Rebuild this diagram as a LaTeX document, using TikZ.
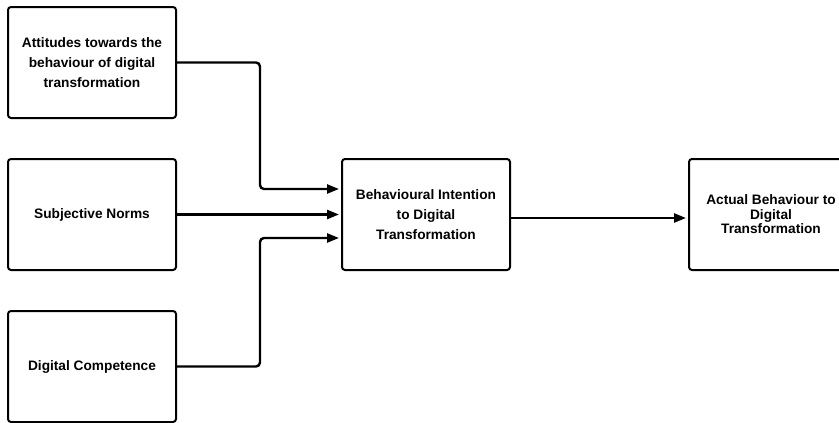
\documentclass[tikz,border=0pt]{standalone}
\usepackage{fontspec}
\setmainfont{Liberation Sans}
\usetikzlibrary{arrows.meta,positioning}

\begin{document}
\begin{tikzpicture}[x=1pt,y=-1pt,
	box/.style={draw,line width=2pt,rounded corners=3pt,minimum width=168pt,minimum height=111pt,inner sep=0pt,align=center,font=\fontsize{13.7}{20}\selectfont\bfseries},
	link/.style={line width=2.4pt,rounded corners=4pt,shorten >=2pt,-{Triangle[length=12pt,width=9pt]}}]
	\useasboundingbox (0,0) rectangle (839,423);

	% factors on the left
	\node[box] (att) at (92,62.5) {Attitudes towards the\\behaviour of digital\\transformation};
	\node[box] (norm) at (92,214.5) {Subjective Norms};
	\node[box] (comp) at (92,366.5) {Digital Competence};

	% intention and behaviour
	\node[box] (intent) at (426,214.5) {Behavioural Intention\\to Digital\\Transformation};
	\node[box,minimum width=164pt,font=\fontsize{13.7}{14.6}\selectfont\bfseries] (act) at (771,214.5) {Actual Behaviour to\\Digital\\Transformation};

	\draw[link] (att.east) -- ++(83,0) |- ([yshift=25.5pt]intent.west);
	\draw[link] (norm.east) -- (intent.west);
	\draw[link] (comp.east) -- ++(83,0) |- ([yshift=-23.5pt]intent.west);
	\draw[link] ([yshift=-3.5pt]intent.east) -- ([yshift=-3.5pt]act.west);
\end{tikzpicture}
\end{document}
